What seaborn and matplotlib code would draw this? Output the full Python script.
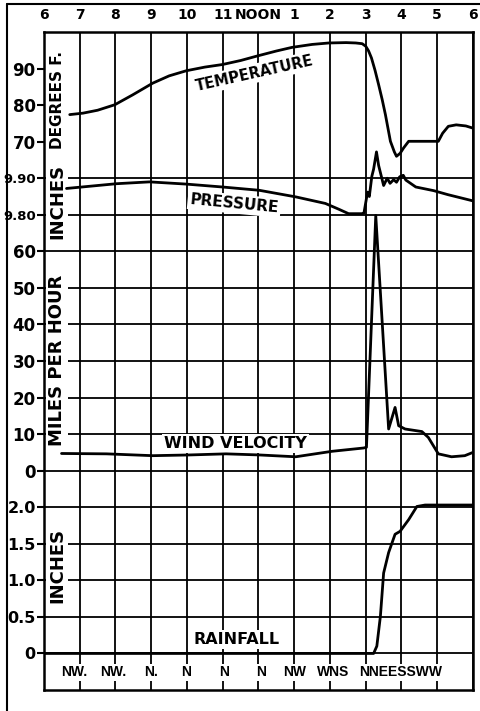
import numpy as np
import matplotlib
matplotlib.use("Agg")
import matplotlib.pyplot as plt
import matplotlib.transforms as mtransforms
from matplotlib.lines import Line2D
import seaborn as sns

# ---- hour axis (6 A.M. to 6 P.M.) ----
hour_ticks = list(range(6, 19))
hour_labels = ["6", "7", "8", "9", "10", "11", "NOON", "1", "2", "3", "4", "5", "6"]

# ---- temperature, degrees F ----
temp_hours = [6.72, 7.09, 7.50, 7.98, 8.48, 9.04, 9.50, 9.98, 10.50, 10.99, 11.50,
              11.95, 12.50, 12.94, 13.50, 13.97, 14.45, 14.72, 14.90, 15.00, 15.08,
              15.16, 15.26, 15.36, 15.46, 15.55, 15.69, 15.80, 15.86, 15.96, 16.06,
              16.20, 16.60, 17.03, 17.15, 17.31, 17.53, 17.80, 18.00]
temp_values = [77.4, 77.8, 78.6, 80.1, 82.8, 86.0, 88.0, 89.4, 90.4, 91.1, 92.2,
               93.4, 94.8, 95.8, 96.6, 97.0, 97.1, 97.0, 96.8, 96.1, 94.8,
               92.9, 89.5, 85.6, 81.5, 77.4, 70.1, 67.2, 66.0, 66.8, 68.3,
               70.1, 70.1, 70.1, 72.3, 74.2, 74.6, 74.3, 73.7]

# ---- barometric pressure, inches ----
pressure_hours = [6.63, 8.03, 8.95, 9.97, 10.99, 12.02, 13.04, 13.87, 14.25, 14.52,
                  14.89, 14.95, 15.05, 15.10, 15.17, 15.22, 15.30, 15.36, 15.50,
                  15.60, 15.68, 15.78, 15.86, 15.95, 16.05, 16.12, 16.40, 16.90,
                  17.30, 18.00]
pressure_values = [9.872, 9.885, 9.890, 9.884, 9.876, 9.867, 9.849, 9.831, 9.815, 9.803,
                   9.803, 9.805, 9.862, 9.850, 9.905, 9.925, 9.972, 9.935, 9.880,
                   9.900, 9.886, 9.896, 9.889, 9.904, 9.908, 9.895, 9.876, 9.866,
                   9.855, 9.838]

# ---- wind velocity, miles per hour ----
wind_hours = [6.49, 7.75, 9.04, 10.07, 11.09, 12.02, 13.04, 14.06, 14.94, 15.02,
              15.28, 15.64, 15.82, 15.92, 16.10, 16.57, 16.75, 17.03, 17.40, 17.77, 18.00]
wind_values = [4.7, 4.6, 4.1, 4.3, 4.6, 4.3, 3.8, 5.3, 6.2, 6.4,
               69.8, 11.4, 17.3, 12.3, 11.4, 10.7, 9.1, 4.6, 3.8, 4.1, 5.0]

# ---- accumulated rainfall, inches ----
rain_hours = [6.00, 15.22, 15.31, 15.41, 15.50, 15.64, 15.82, 15.96, 16.20, 16.43, 16.66, 18.00]
rain_values = [0.00, 0.00, 0.10, 0.51, 1.10, 1.38, 1.63, 1.67, 1.83, 2.01, 2.03, 2.03]

# ---- wind direction along the bottom ----
direction_hours = [6.84, 7.93, 9.00, 9.98, 11.04, 12.07, 13.00, 14.10, 15.98]
direction_labels = ["NW.", "NW.", "N.", "N", "N", "N", "NW", "WNS", "NNEESSWW"]

# ---- left scales ----
temp_ticks = [90, 80, 70]
pressure_ticks = [9.90, 9.80]
pressure_tick_labels = ["9.90", "9.80"]
wind_ticks = [60, 50, 40, 30, 20, 10, 0]
rain_ticks = [2.0, 1.5, 1.0, 0.5, 0.0]
rain_tick_labels = ["2.0", "1.5", "1.0", "0.5", "0"]

sns.set_style("white")
INK = "black"
plt.rcParams["font.family"] = ["DejaVu Sans"]
plt.rcParams["font.weight"] = "bold"
plt.rcParams["text.color"] = INK
plt.rcParams["xtick.color"] = INK
plt.rcParams["ytick.color"] = INK
plt.rcParams["axes.edgecolor"] = INK

fig = plt.figure(figsize=(4.81, 7.11), dpi=100)
rect = [44 / 481, 1 - 690 / 711, 429 / 481, 658 / 711]

ax_t = fig.add_axes(rect)
ax_p = fig.add_axes(rect)
ax_w = fig.add_axes(rect)
ax_r = fig.add_axes(rect)

# each panel gets 10 units (or 0.1 in / 0.5 in) per grid row, 18 rows tall
ax_t.set_ylim(-80, 100)
ax_p.set_ylim(8.50, 10.30)
ax_w.set_ylim(-60, 120)
ax_r.set_ylim(-0.5, 8.5)
for a in (ax_t, ax_p, ax_w, ax_r):
    a.set_xlim(6, 18)

# base grid, frame and hour labels
ax_t.set_xticks(hour_ticks)
ax_t.set_xticklabels(hour_labels)
ax_t.xaxis.tick_top()
ax_t.tick_params(axis="x", length=0, pad=7, labelsize=10)
ax_t.set_yticks(np.arange(-70, 100, 10), minor=True)
ax_t.set_yticks(temp_ticks)
ax_t.tick_params(axis="y", which="major", direction="out", length=5, width=1.5,
                 pad=1, labelsize=12, left=True, labelcolor=INK)
ax_t.tick_params(axis="y", which="minor", length=0)
ax_t.grid(axis="x", which="major", color=INK, linewidth=1.3)
ax_t.grid(axis="y", which="minor", color=INK, linewidth=1.3)
ax_t.grid(axis="y", which="major", visible=False)
for s in ax_t.spines.values():
    s.set_visible(True)
    s.set_color(INK)
    s.set_linewidth(1.8)
    s.set_zorder(6)

def overlay(a, ticks, labels, size):
    a.patch.set_visible(False)
    for s in a.spines.values():
        s.set_visible(False)
    a.tick_params(axis="x", which="both", bottom=False, top=False,
                  labelbottom=False, labeltop=False)
    a.set_yticks(ticks)
    a.set_yticklabels(labels)
    a.tick_params(axis="y", direction="out", length=5, width=1.5, pad=1,
                  labelsize=size, left=True, color=INK, labelcolor=INK)
    a.grid(False)

overlay(ax_p, pressure_ticks, pressure_tick_labels, 9.5)
overlay(ax_w, wind_ticks, [str(v) for v in wind_ticks], 12)
overlay(ax_r, rain_ticks, rain_tick_labels, 11.5)

# curves
line_kw = dict(color=INK, linewidth=2.0, estimator=None, sort=False)
sns.lineplot(x=temp_hours, y=temp_values, ax=ax_t, zorder=5, **line_kw)
sns.lineplot(x=pressure_hours, y=pressure_values, ax=ax_p, **line_kw)
sns.lineplot(x=wind_hours, y=wind_values, ax=ax_w, **line_kw)
sns.lineplot(x=rain_hours, y=rain_values, ax=ax_r, **line_kw)
for a in (ax_t, ax_p, ax_w, ax_r):
    a.set_xlabel("")
    a.set_ylabel("")
    for ln in a.get_lines():
        ln.set_solid_joinstyle("round")
        ln.set_solid_capstyle("round")

# text labels (white backing breaks the grid lines behind them)
box = dict(facecolor="white", edgecolor="none", pad=1.5)
txt = dict(color=INK, fontweight="bold", ha="center", va="center", zorder=4, bbox=box)

ax_t.text(11.90, 88.7, "TEMPERATURE", rotation=12.6, rotation_mode="anchor",
          fontsize=10.5, **txt)
ax_t.text(11.32, 9.830, "PRESSURE", rotation=-5.5, rotation_mode="anchor",
          fontsize=11, transform=ax_p.transData, **txt)
ax_t.text(11.35, 7.5, "WIND VELOCITY", fontsize=11.5, transform=ax_w.transData, **txt)
ax_t.text(11.38, 0.19, "RAINFALL", fontsize=11.5, transform=ax_r.transData, **txt)

lx = 0.031
ax_t.text(lx, 81.4, "DEGREES F.", rotation=90, fontsize=11,
          transform=mtransforms.blended_transform_factory(ax_t.transAxes, ax_t.transData), **txt)
ax_t.text(lx, 9.837, "INCHES", rotation=90, fontsize=13,
          transform=mtransforms.blended_transform_factory(ax_t.transAxes, ax_p.transData), **txt)
ax_t.text(lx, 30.1, "MILES PER HOUR", rotation=90, fontsize=13,
          transform=mtransforms.blended_transform_factory(ax_t.transAxes, ax_w.transData), **txt)
ax_t.text(lx, 1.20, "INCHES", rotation=90, fontsize=13,
          transform=mtransforms.blended_transform_factory(ax_t.transAxes, ax_r.transData), **txt)

dir_kw = dict(txt)
dir_kw["bbox"] = dict(facecolor="white", edgecolor="none", pad=1.0)
for h, lab in zip(direction_hours, direction_labels):
    ax_t.text(h, -0.26, lab, fontsize=10, family=["Liberation Sans", "DejaVu Sans"],
              transform=ax_r.transData, **dir_kw)

# outer frame of the plate
fig.add_artist(Line2D([7 / 481, 7 / 481], [0, 1 - 4 / 711], transform=fig.transFigure,
                      color=INK, linewidth=1.5))
fig.add_artist(Line2D([7 / 481, 1], [1 - 4 / 711, 1 - 4 / 711], transform=fig.transFigure,
                      color=INK, linewidth=1.5))

fig.savefig("out.png", dpi=100, facecolor="white")
